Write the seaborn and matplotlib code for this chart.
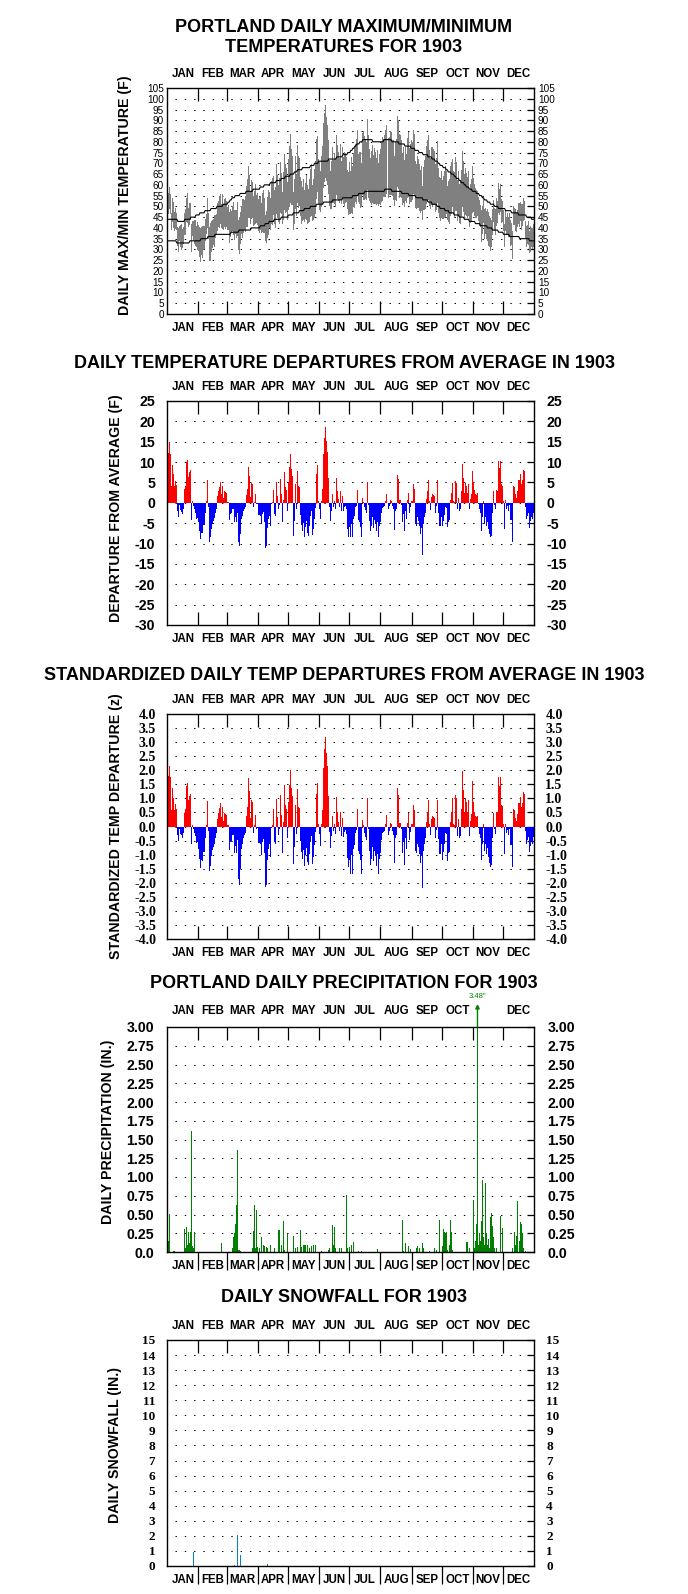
import numpy as np
import pandas as pd
import matplotlib
matplotlib.use("Agg")
import matplotlib.pyplot as plt
import seaborn as sns

months = ["JAN", "FEB", "MAR", "APR", "MAY", "JUN",
          "JUL", "AUG", "SEP", "OCT", "NOV", "DEC"]
month_len = [31, 28, 31, 30, 31, 30, 31, 31, 30, 31, 30, 31]

# normal daily max / min temperature (F), one line per month
normal_max = [
    44,44,44,44,44,44,44,44,44,44,43,43,43,43,43,43,43,44,44,44,44,44,44,45,45,45,45,45,46,46,46,
    46,47,47,47,47,47,48,48,48,48,48,48,49,49,49,49,49,49,50,50,50,50,50,50,51,51,51,51,
    51,52,52,53,53,54,54,54,55,55,55,55,55,56,56,56,56,56,56,57,57,57,57,57,57,57,58,58,58,58,58,
    58,58,59,59,59,59,60,60,60,60,60,60,61,61,61,61,61,61,62,62,62,62,62,63,63,63,63,64,64,64,
    64,64,65,65,65,65,66,66,66,67,67,67,67,67,68,68,68,68,68,68,68,68,69,69,69,69,70,70,70,70,71,
    71,71,71,71,71,71,71,71,71,72,72,72,72,72,72,72,72,73,73,73,73,73,73,74,74,74,74,74,75,75,
    75,76,76,77,77,78,78,79,79,79,80,80,80,81,81,81,81,81,81,81,81,81,81,80,80,80,80,80,80,80,80,
    80,80,80,81,81,81,81,81,81,81,81,80,80,80,80,80,80,80,79,79,79,79,79,79,78,78,78,78,78,78,77,
    77,77,77,76,76,76,76,75,75,75,75,74,74,74,74,74,73,73,73,73,72,72,72,71,71,71,70,70,69,69,
    69,68,68,68,67,67,66,66,66,65,65,65,64,64,63,63,63,62,62,61,61,61,60,60,59,59,59,58,58,58,57,
    57,57,57,56,56,56,55,55,55,54,54,53,53,53,52,52,52,51,51,51,51,50,50,50,50,49,49,49,49,49,
    49,49,48,48,48,48,48,48,47,47,47,47,47,47,47,46,46,46,46,46,46,46,46,45,45,45,45,45,44,44,44,
]
normal_min = [
    34,34,34,34,34,34,34,34,34,33,33,33,33,33,33,33,33,33,33,33,33,33,34,34,34,34,34,34,34,34,34,
    34,34,35,35,35,35,35,35,35,36,36,36,36,36,36,36,37,37,37,37,37,37,37,37,37,37,37,37,
    37,37,37,37,38,38,38,38,38,38,38,38,39,39,39,39,39,39,39,39,39,39,39,39,40,40,40,40,40,40,40,
    40,40,41,41,41,41,41,42,42,42,42,43,43,43,43,43,44,44,44,44,44,44,44,45,45,45,45,45,45,45,
    46,46,46,46,46,47,47,47,47,47,47,48,48,48,48,48,49,49,49,49,49,49,50,50,50,50,50,50,51,51,51,
    51,51,51,51,52,52,52,52,52,52,52,52,52,53,53,53,53,53,53,53,53,53,53,54,54,54,54,54,54,54,
    54,54,54,55,55,55,55,55,55,56,56,56,56,56,56,57,57,57,57,57,57,57,57,57,57,57,57,57,57,57,57,
    57,57,57,57,58,58,58,58,58,58,58,57,57,57,57,57,57,57,57,57,57,56,56,56,56,56,56,56,55,55,55,
    55,55,55,55,54,54,54,54,54,54,54,53,53,53,53,53,52,52,52,52,51,51,51,51,51,50,50,50,49,49,
    49,49,49,48,48,48,48,47,47,47,47,47,46,46,46,46,46,45,45,45,45,45,44,44,44,44,44,43,43,43,43,
    43,43,42,42,42,42,42,41,41,41,41,41,41,41,40,40,40,40,40,39,39,39,39,39,39,38,38,38,38,38,
    37,37,37,37,37,37,36,36,36,36,36,36,36,36,36,36,35,35,35,35,35,35,35,35,35,35,34,34,34,34,34,
]

# daily departure of the mean temperature from normal (F)
departure = [
    4.8,12.3,14.9,12.1,4.1,9.4,7.0,4.1,5.4,4.3,-2.0,-3.6,-0.5,-1.8,-2.2,-2.8,-1.5,3.4,4.2,9.9,10.6,6.4,7.5,8.0,-4.3,0.4,-0.7,-1.5,-2.4,-4.0,-3.8,
    -4.8,-7.0,-8.9,-7.3,-7.5,-5.5,-2.4,0.4,5.6,-1.0,-9.6,-8.5,-6.5,-5.2,-4.5,-3.8,-2.4,-1.5,1.7,3.0,4.0,5.2,2.1,4.2,1.1,3.0,2.7,2.5,
    0.3,0.3,-4.3,-2.8,-2.6,-1.6,-1.6,-4.8,-3.6,-4.8,-2.4,-9.6,-10.6,-7.7,-4.0,-3.2,-2.0,-1.6,-1.1,1.9,3.5,8.8,6.5,1.5,4.8,4.5,-1.1,0.3,2.1,-0.4,-0.3,
    -3.0,-3.0,-3.2,-5.2,-2.8,-2.2,-4.8,-11.0,-10.6,-6.1,-4.0,-3.2,-5.6,-0.3,0.3,3.1,-2.8,-3.2,5.0,1.7,-1.6,-0.5,5.8,2.1,-4.8,0.8,7.5,3.9,3.1,-2.0,
    5.2,8.9,12.0,8.3,6.6,-8.1,-4.4,4.6,-1.6,7.9,4.2,3.9,-3.0,-5.5,-7.0,-5.0,-8.4,-6.0,-4.5,-7.5,-8.2,-5.8,-3.3,-2.0,-8.0,-6.5,-4.0,-1.2,7.0,9.2,0.5,
    -1.5,-4.0,0.5,3.5,12.1,16.0,18.5,15.2,12.4,6.2,-1.1,-4.4,-2.0,2.1,-1.0,0.5,-1.6,6.1,3.0,0.9,-1.0,3.0,-2.0,1.7,-2.1,-1.1,-0.7,-1.6,-6.5,-8.4,
    -5.9,-8.4,-5.1,-8.4,-4.0,-3.2,-1.1,-0.7,3.1,-4.3,-4.8,-5.9,-8.4,1.1,0.3,-1.1,-1.8,-2.4,5.0,-0.5,-4.4,-6.9,-5.7,-3.6,-6.1,-4.3,-5.2,-7.0,-4.8,-8.5,-5.7,
    -4.8,-2.5,-1.2,-1.0,-0.8,0.5,2.1,-1.6,-0.8,0.7,0.5,-0.8,-1.6,-6.7,-2.0,-1.6,6.9,5.8,0.7,0.7,-0.5,-4.8,-2.8,-7.0,-2.0,-4.0,0.7,2.5,-2.4,-1.0,0.5,
    0.5,4.6,3.4,-5.2,-5.6,-3.6,-4.4,-5.7,-7.7,-6.1,-12.8,-5.2,-3.6,-2.4,0.9,3.0,5.6,0.5,-1.8,1.5,2.1,2.0,1.7,-2.4,-0.7,5.6,-2.6,-5.7,-5.7,-3.6,
    -5.7,-4.4,-3.0,-1.1,-1.2,-5.9,-4.6,-4.3,0.7,2.5,4.8,0.5,0.3,5.4,4.8,-1.6,1.3,-2.0,-1.6,3.0,9.5,6.2,2.5,4.8,4.2,2.5,4.6,-1.6,0.9,2.1,7.7,
    5.2,3.1,2.1,2.0,2.3,-0.3,-1.6,-2.4,-7.0,-3.6,0.5,-5.2,-3.6,-5.7,-4.6,-6.5,-7.7,-8.5,-8.1,-2.4,2.8,-0.6,-1.6,3.1,3.0,10.3,8.5,10.3,4.5,4.2,
    0.5,-6.5,0.7,-1.6,-0.8,-2.0,-0.5,-4.3,-4.3,-9.5,4.2,3.8,2.1,1.3,3.0,5.6,5.6,7.0,4.6,5.5,8.0,7.7,-1.1,-4.0,-3.2,-2.4,-6.1,-4.5,-3.5,-4.0,-2.5,
]

# daily max minus min (F)
day_range = [
    12,10,10,9,8,11,12,9,10,8,9,11,7,10,12,9,8,10,12,11,14,9,10,8,13,7,9,11,12,10,13,
    12,14,16,13,15,11,10,9,14,12,16,18,14,13,12,15,11,10,13,12,15,14,11,16,12,13,14,12,
    11,12,14,13,10,12,15,14,11,13,16,14,17,15,13,18,16,14,17,19,22,24,20,15,18,17,14,16,19,13,15,
    15,17,16,14,18,20,16,12,15,19,21,17,15,20,22,18,16,19,23,20,17,21,24,19,15,22,26,23,20,18,
    24,28,32,26,23,18,21,25,19,27,24,22,18,20,16,19,15,17,21,18,16,20,22,24,17,19,23,25,28,26,21,
    22,19,24,27,30,32,34,30,28,25,21,18,22,26,20,24,22,28,25,23,21,26,20,24,22,25,23,21,18,20,
    24,20,26,22,25,28,27,30,31,22,24,26,20,29,32,30,28,27,33,29,24,21,25,27,23,26,24,22,25,20,23,
    26,28,30,27,29,31,32,28,27,30,29,26,28,23,27,29,33,32,30,29,27,24,26,22,25,23,28,30,26,27,29,
    27,30,28,22,21,24,23,22,20,21,16,20,23,25,27,29,30,26,24,27,28,26,25,22,24,29,21,19,20,22,
    18,20,22,24,20,16,19,21,23,24,22,20,21,25,23,19,21,18,20,22,26,24,21,22,20,19,21,17,18,20,22,
    16,15,14,13,12,11,12,10,15,13,11,14,12,13,15,16,14,15,13,12,10,11,12,13,10,14,12,13,11,10,
    10,11,9,8,10,9,11,12,10,13,9,8,10,9,8,10,11,9,12,10,11,9,8,10,9,11,10,12,9,10,11,
]

# standard deviation of daily departures, by month (F)
dep_sd = [6.9, 6.1, 5.1, 5.1, 6.0, 5.8, 5.0, 5.1, 5.9, 4.8, 5.9, 6.6]

# (month, day, inches)
rain = [
    (1,1,0.12),(1,2,0.15),(1,3,0.51),(1,7,0.02),(1,8,0.02),(1,18,0.31),(1,19,0.05),(1,20,0.33),
    (1,21,0.10),(1,22,0.27),(1,23,0.12),(1,24,0.27),(1,25,1.62),(1,26,0.08),(1,27,0.05),(1,28,0.27),
    (1,29,0.10),(1,30,0.65),(1,31,0.31),
    (2,1,0.05),(2,7,0.71),(2,8,0.05),(2,9,0.42),(2,10,0.05),(2,23,0.12),
    (3,6,0.05),(3,7,0.20),(3,8,0.25),(3,9,0.38),(3,10,0.63),(3,11,1.36),(3,12,0.03),(3,13,0.03),
    (3,14,0.02),(3,26,0.05),(3,27,0.28),(3,28,0.63),(3,29,0.05),(3,30,0.56),(3,31,0.07),
    (4,2,0.05),(4,4,0.20),(4,6,0.10),(4,7,0.08),(4,9,0.07),(4,10,0.05),(4,13,0.10),(4,17,0.05),
    (4,21,0.29),(4,22,0.29),(4,24,0.10),(4,26,0.42),(4,27,0.03),(4,30,0.24),
    (5,6,0.22),(5,8,0.05),(5,10,0.07),(5,13,0.30),(5,14,0.07),(5,16,0.10),(5,17,0.10),(5,18,0.10),
    (5,20,0.10),(5,22,0.05),(5,24,0.08),(5,26,0.10),(5,28,0.10),
    (6,3,0.01),(6,10,0.03),(6,11,0.05),(6,14,0.36),(6,15,0.10),(6,16,0.34),(6,17,0.05),(6,21,0.05),
    (6,23,0.05),(6,28,0.76),(6,29,0.05),
    (7,1,0.07),(7,3,0.10),(7,5,0.14),(7,10,0.01),(7,13,0.01),(7,29,0.04),(7,31,0.02),
    (8,15,0.04),(8,16,0.04),(8,22,0.43),(8,23,0.01),(8,25,0.12),(8,28,0.08),(8,30,0.04),
    (9,5,0.05),(9,6,0.08),(9,8,0.06),(9,11,0.12),(9,12,0.05),(9,18,0.01),(9,23,0.05),(9,25,0.03),
    (9,28,0.43),
    (10,1,0.08),(10,2,0.31),(10,3,0.27),(10,4,0.24),(10,5,0.27),(10,6,0.03),(10,8,0.10),(10,9,0.43),
    (10,10,0.27),(10,11,0.03),(10,25,0.13),(10,26,0.14),(10,28,0.06),
    (11,1,0.69),(11,2,0.05),(11,3,0.15),(11,4,0.38),(11,5,3.48),(11,6,0.10),(11,7,0.25),(11,8,0.15),
    (11,9,0.42),(11,10,0.96),(11,11,0.20),(11,12,0.10),(11,13,0.92),(11,14,0.25),(11,15,0.10),
    (11,16,0.18),(11,17,0.05),(11,18,0.47),(11,19,0.52),(11,20,0.35),(11,21,0.20),(11,22,0.05),
    (11,24,0.05),(11,28,0.48),(11,30,0.32),
    (12,10,0.05),(12,12,0.27),(12,13,0.10),(12,14,0.22),(12,15,0.68),(12,17,0.15),(12,18,0.40),
    (12,19,0.38),(12,20,0.25),(12,21,0.05),(12,23,0.02),
]

snow = [(1,27,0.9),(1,29,0.1),(1,30,0.1),(2,7,0.7),(3,8,0.05),(3,11,2.05),(3,14,0.7),(4,10,0.15)]

W, H = 688, 1594

sns.set_theme(style="white")
plt.rcParams["font.family"] = ["Liberation Sans", "DejaVu Sans"]
plt.rcParams["text.color"] = "black"
plt.rcParams["axes.labelcolor"] = "black"
plt.rcParams["xtick.color"] = "black"
plt.rcParams["ytick.color"] = "black"

days = np.arange(1, 366)
starts = np.cumsum([0] + month_len[:-1])
bounds = np.cumsum(month_len)[:-1] + 0.5
mids = starts + np.array(month_len) / 2 + 0.5

dep = np.array(departure)
nmax = np.array(normal_max, float)
nmin = np.array(normal_min, float)
rng = np.array(day_range, float)
nmid = (nmax + nmin) / 2
tmax = nmid + dep + rng / 2
tmin = nmid + dep - rng / 2
zdep = dep / np.repeat(dep_sd, month_len)

precip = np.zeros(365)
for m, d, v in rain:
    precip[starts[m - 1] + d - 1] = v
snowfall = np.zeros(365)
for m, d, v in snow:
    snowfall[starts[m - 1] + d - 1] = v


def rect(top, bot):
    return [167.3 / W, 1 - bot / H, 367 / W, (bot - top) / H]


def frame(ax, ylo, yhi, ticks, labels, grid, font, size, bold, pad,
          top_names=months, bottom_out=False, top_off=10):
    ax.set_xlim(0.5, 365.5)
    ax.set_ylim(ylo, yhi)
    for s in ax.spines.values():
        s.set_visible(True)
        s.set_color("black")
        s.set_linewidth(1.0)
    ax.hlines(grid, 8.5, 365.5, colors="black", linewidth=0.75,
              linestyles=[(0, (1.33, 7.6))], zorder=0.5)
    ax.set_xticks([])
    ax.set_xlabel("")
    ax.set_ylabel("")
    h = ax.get_position().height * H
    tl = 13 / h
    xt = ax.get_xaxis_transform()
    ax.vlines(bounds, 1 - tl, 1, colors="black", linewidth=0.9, transform=xt)
    if bottom_out:
        ax.vlines(bounds, -18 / h, 0, colors="black", linewidth=0.9,
                  transform=xt, clip_on=False)
    else:
        ax.vlines(bounds, 0, tl, colors="black", linewidth=0.9, transform=xt)
    ax.set_yticks(ticks, labels=labels)
    ax.tick_params(axis="y", direction="in", length=5, width=0.9, color="black",
                   labelcolor="black", left=True, right=True, labelleft=True,
                   labelright=True, pad=pad, labelsize=size, labelfontfamily=font)
    for t in ax.yaxis.get_major_ticks():
        t.tick1line.set_visible(False)
    plt.setp(ax.get_yticklabels(), fontweight="bold" if bold else "normal")
    for i, name in enumerate(months):
        if name in top_names:
            ax.annotate(name, (mids[i], 1), xycoords=xt, xytext=(0, top_off),
                        textcoords="offset points", ha="center", va="center",
                        fontsize=8.3, fontweight="bold", color="black")
        ax.annotate(name, (mids[i], 0), xycoords=xt, xytext=(0, -10),
                    textcoords="offset points", ha="center", va="center",
                    fontsize=8.3, fontweight="bold", color="black")


def fig_text(x, y, s, **kw):
    fig.text(x / W, 1 - y / H, s, ha="center", va="center", color="black", **kw)


fig = plt.figure(figsize=(W / 100, H / 100), dpi=100)
fig.patch.set_facecolor("white")

# panel 1: daily max/min
ax1 = fig.add_axes(rect(88, 314))
ax1.bar(days, tmax - tmin, bottom=tmin, width=1.0, color="#808080", linewidth=0)
sns.lineplot(x=days, y=nmax, color="black", linewidth=0.8, ax=ax1)
sns.lineplot(x=days, y=nmin, color="black", linewidth=0.8, ax=ax1)
t1 = np.arange(0, 106, 5)
frame(ax1, 0, 105, t1, [str(v) for v in t1], t1[1:-1],
      "Liberation Sans", 7.2, False, 2.5)

# panel 2: departures
df = pd.DataFrame({"day": days, "dep": dep, "z": zdep,
                   "sign": np.where(dep >= 0, "pos", "neg")})
pal = {"pos": "#ff0000", "neg": "#0000ff"}
ax2 = fig.add_axes(rect(401, 625))
sns.barplot(data=df, x="day", y="dep", hue="sign", palette=pal, native_scale=True,
            width=1.0, dodge=False, saturation=1, errorbar=None, legend=False,
            linewidth=0, ax=ax2)
t2 = np.arange(-30, 26, 5)
frame(ax2, -30, 25, t2, [str(v) for v in t2], t2[1:-1],
      "Liberation Sans", 10.2, True, 8.6)

# panel 3: standardized departures
ax3 = fig.add_axes(rect(714, 939))
sns.barplot(data=df, x="day", y="z", hue="sign", palette=pal, native_scale=True,
            width=1.0, dodge=False, saturation=1, errorbar=None, legend=False,
            linewidth=0, ax=ax3)
t3 = np.arange(-4.0, 4.01, 0.5)
frame(ax3, -4, 4, t3, [f"{v:.1f}" for v in t3], t3[1:-1],
      "Liberation Serif", 10, True, 8)

# panel 4: precipitation
ax4 = fig.add_axes(rect(1027, 1252))
sns.barplot(x=days, y=precip, color="#008000", native_scale=True, width=0.9,
            saturation=1, errorbar=None, linewidth=0, ax=ax4)
t4 = np.arange(0, 3.01, 0.25)
lab4 = ["0.0"] + [f"{v:.2f}" for v in t4[1:]]
frame(ax4, 0, 3, t4, lab4, t4[1:-1], "Liberation Sans", 10.2, True, 9.5,
      top_names=[m for m in months if m != "NOV"], bottom_out=True, top_off=11.5)
big = int(np.argmax(precip))
ax4.annotate("", xy=(days[big], 1 + 23 / 225), xycoords=("data", "axes fraction"),
             xytext=(days[big], 1.0), textcoords=("data", "axes fraction"),
             arrowprops=dict(arrowstyle="-|>", color="#008000", lw=1.0,
                             mutation_scale=6, shrinkA=0, shrinkB=0))
ax4.annotate(f'{precip[big]:.2f}"', (days[big], 1 + 31 / 225),
             xycoords=("data", "axes fraction"), ha="center", va="center",
             fontsize=5.5, color="#008000")

# panel 5: snowfall
ax5 = fig.add_axes(rect(1340, 1566))
sns.barplot(x=days, y=snowfall, color="#0a7fc1", native_scale=True, width=0.9,
            saturation=1, errorbar=None, linewidth=0, ax=ax5)
t5 = np.arange(0, 16, 1)
frame(ax5, 0, 15, t5, [str(v) for v in t5], t5[1:-1],
      "Liberation Serif", 9.5, True, 8.6, bottom_out=True)

# titles and axis labels
tk = dict(fontsize=13, fontweight="bold")
fig_text(344, 28, "PORTLAND DAILY MAXIMUM/MINIMUM", **tk)
fig_text(344, 47, "TEMPERATURES FOR 1903", **tk)
fig_text(344, 363, "DAILY TEMPERATURE DEPARTURES FROM AVERAGE IN 1903", **tk)
fig_text(344, 675, "STANDARDIZED DAILY TEMP DEPARTURES FROM AVERAGE IN 1903", **tk)
fig_text(344, 984, "PORTLAND DAILY PRECIPITATION FOR 1903", **tk)
fig_text(344, 1298, "DAILY SNOWFALL FOR 1903", **tk)

lk = dict(fontsize=10.2, fontweight="bold", rotation=90)
fig_text(125, 195, "DAILY MAX/MIN TEMPERATURE (F)", **lk)
fig_text(116, 508, "DEPARTURE FROM AVERAGE (F)", **lk)
fig_text(116, 826, "STANDARDIZED TEMP DEPARTURE (z)", **lk)
fig_text(108, 1132, "DAILY PRECIPITATION (IN.)", **lk)
fig_text(115, 1445, "DAILY SNOWFALL (IN.)", **lk)

fig.savefig("out.png", dpi=100, facecolor="white")
